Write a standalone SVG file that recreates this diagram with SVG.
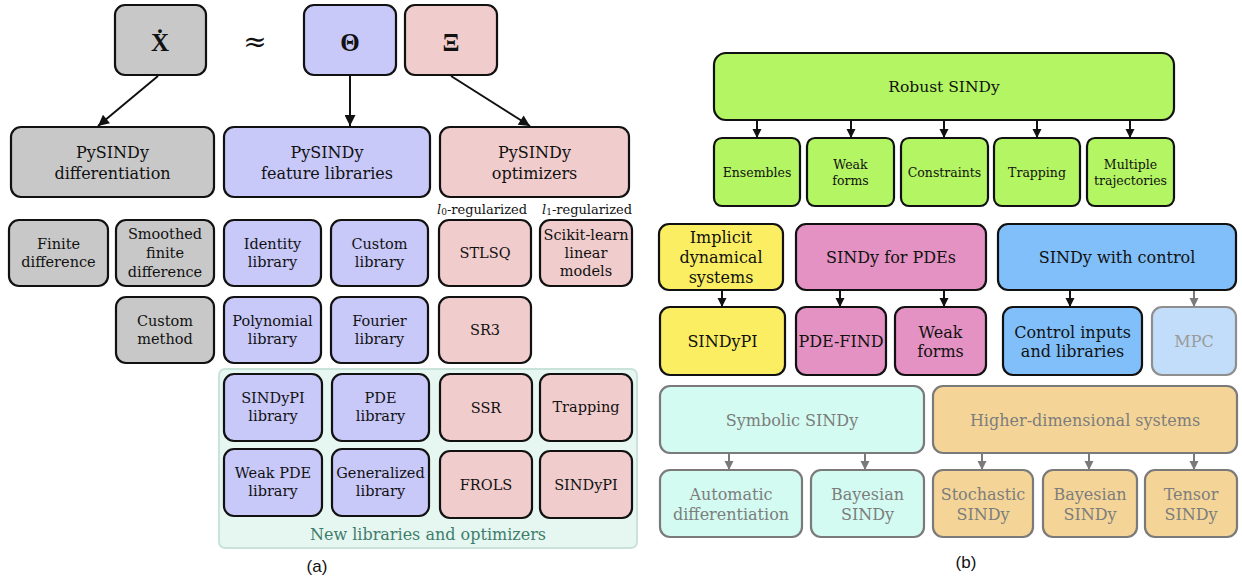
<svg xmlns="http://www.w3.org/2000/svg" width="1242" height="579" viewBox="0 0 1242 579">
<style>
  text { font-family: "DejaVu Serif", "Liberation Serif", serif; text-anchor: middle; dominant-baseline: central; fill: #111; }
  .b { stroke: #111; stroke-width: 2.2; }
  .g { stroke: #7a7a7a; stroke-width: 2.2; }
  .gray { fill: #c8c8c8; }
  .lav { fill: #c8c8f9; }
  .pink { fill: #f0cccc; }
  .lime { fill: #b3f562; }
  .yel { fill: #fbee63; }
  .mag { fill: #e491c3; }
  .blue { fill: #80bff9; }
  .mpc { fill: #c2ddf9; }
  .cyan { fill: #d3fbf1; }
  .orng { fill: #f4d597; }
  .sym { font-family: "Liberation Serif", "DejaVu Serif", serif; font-weight: bold; font-size: 25px; }
  .hd { font-size: 16px; }
  .nd { font-size: 14.5px; }
  .sm { font-size: 12.5px; }
  .r2 { font-size: 16px; }
  .gt { fill: #7d7d7d; }
  .mt { fill: #9a9a9a; }
  .lab { font-family: "Liberation Sans", Arial, sans-serif; font-size: 17px; }
  .conn line { stroke-width: 2; }
</style>
<defs>
  <marker id="ahL" viewBox="0 0 10 10" refX="10" refY="5" markerWidth="13" markerHeight="11" markerUnits="userSpaceOnUse" orient="auto"><path d="M0,0 L10,5 L0,10 z" fill="#111"/></marker>
  <marker id="ah" viewBox="0 0 10 10" refX="10" refY="5" markerWidth="9" markerHeight="10" markerUnits="userSpaceOnUse" orient="auto"><path d="M0,0 L10,5 L0,10 z" fill="#111"/></marker>
  <marker id="ahg" viewBox="0 0 10 10" refX="10" refY="5" markerWidth="9" markerHeight="10" markerUnits="userSpaceOnUse" orient="auto"><path d="M0,0 L10,5 L0,10 z" fill="#7a7a7a"/></marker>
</defs>

<!-- background region -->
<g id="newRegion">
  <rect x="219" y="369" width="418" height="179" rx="6" fill="#e6f7f1" stroke="#c9e3da" stroke-width="2"/>
  <text x="428" y="534" style="font-size:16px;fill:#3e7d6c">New libraries and optimizers</text>
</g>

<!-- connectors -->
<g id="connectors" class="conn">
  <line x1="158" y1="76" x2="98" y2="126" stroke="#111" marker-end="url(#ahL)"/>
  <line x1="350" y1="76" x2="350" y2="126" stroke="#111" marker-end="url(#ahL)"/>
  <line x1="451" y1="76" x2="530" y2="126" stroke="#111" marker-end="url(#ahL)"/>

  <line x1="757" y1="120" x2="757" y2="138" stroke="#111" marker-end="url(#ah)"/>
  <line x1="851" y1="120" x2="851" y2="138" stroke="#111" marker-end="url(#ah)"/>
  <line x1="944" y1="120" x2="944" y2="138" stroke="#111" marker-end="url(#ah)"/>
  <line x1="1037" y1="120" x2="1037" y2="138" stroke="#111" marker-end="url(#ah)"/>
  <line x1="1130" y1="120" x2="1130" y2="138" stroke="#111" marker-end="url(#ah)"/>

  <line x1="722" y1="290" x2="722" y2="307" stroke="#111" marker-end="url(#ah)"/>
  <line x1="840" y1="290" x2="840" y2="307" stroke="#111" marker-end="url(#ah)"/>
  <line x1="944" y1="290" x2="944" y2="307" stroke="#111" marker-end="url(#ah)"/>
  <line x1="1070" y1="290" x2="1070" y2="307" stroke="#111" marker-end="url(#ah)"/>
  <line x1="1194" y1="290" x2="1194" y2="307" stroke="#7a7a7a" marker-end="url(#ahg)"/>

  <line x1="729" y1="453" x2="729" y2="470" stroke="#7a7a7a" marker-end="url(#ahg)"/>
  <line x1="865" y1="453" x2="865" y2="470" stroke="#7a7a7a" marker-end="url(#ahg)"/>
  <line x1="982" y1="453" x2="982" y2="470" stroke="#7a7a7a" marker-end="url(#ahg)"/>
  <line x1="1089" y1="453" x2="1089" y2="470" stroke="#7a7a7a" marker-end="url(#ahg)"/>
  <line x1="1194" y1="453" x2="1194" y2="470" stroke="#7a7a7a" marker-end="url(#ahg)"/>
</g>

<!-- panel (a) -->
<g id="nXdot"><rect x="115" y="5" width="91" height="70" rx="10" class="gray b"/><text x="160" y="42" class="sym">Ẋ</text></g>
<g id="approx"><text x="255" y="41" style="font-size:28px">≈</text></g>
<g id="nTheta"><rect x="304" y="5" width="92" height="70" rx="10" class="lav b"/><text x="350" y="42" class="sym">Θ</text></g>
<g id="nXi"><rect x="405" y="5" width="92" height="70" rx="10" class="pink b"/><text x="451" y="42" class="sym">Ξ</text></g>

<g id="nDiff"><rect x="11" y="127" width="203" height="70" rx="10" class="gray b"/><text x="112.5" y="152" class="hd">PySINDy</text><text x="112.5" y="173" class="hd">differentiation</text></g>
<g id="nFeat"><rect x="224" y="127" width="206" height="70" rx="10" class="lav b"/><text x="327" y="152" class="hd">PySINDy</text><text x="327" y="173" class="hd">feature libraries</text></g>
<g id="nOpt"><rect x="440" y="127" width="189" height="70" rx="10" class="pink b"/><text x="534.5" y="152" class="hd">PySINDy</text><text x="534.5" y="173" class="hd">optimizers</text></g>

<g id="l0label"><text x="482" y="209" style="font-size:13px"><tspan font-style="italic">l</tspan><tspan dy="3" font-size="9">0</tspan><tspan dy="-3">-regularized</tspan></text></g>
<g id="l1label"><text x="587" y="209" style="font-size:13px"><tspan font-style="italic">l</tspan><tspan dy="3" font-size="9">1</tspan><tspan dy="-3">-regularized</tspan></text></g>

<g id="nFinite"><rect x="9" y="220" width="99" height="66" rx="10" class="gray b"/><text x="58.5" y="244" class="nd">Finite</text><text x="58.5" y="262" class="nd">difference</text></g>
<g id="nSmoothed"><rect x="116" y="220" width="98" height="66" rx="10" class="gray b"/><text x="165" y="234" class="nd">Smoothed</text><text x="165" y="253" class="nd">finite</text><text x="165" y="272" class="nd">difference</text></g>
<g id="nIdentity"><rect x="224" y="220" width="97" height="66" rx="10" class="lav b"/><text x="272.5" y="244" class="nd">Identity</text><text x="272.5" y="262" class="nd">library</text></g>
<g id="nCustomLib"><rect x="331" y="220" width="97" height="66" rx="10" class="lav b"/><text x="379.5" y="244" class="nd">Custom</text><text x="379.5" y="262" class="nd">library</text></g>
<g id="nSTLSQ"><rect x="439" y="220" width="92" height="66" rx="10" class="pink b"/><text x="485" y="253" class="nd">STLSQ</text></g>
<g id="nScikit"><rect x="540" y="220" width="92" height="66" rx="10" class="pink b"/><text x="586" y="235" class="nd">Scikit-learn</text><text x="586" y="253" class="nd">linear</text><text x="586" y="271" class="nd">models</text></g>

<g id="nCustomMethod"><rect x="116" y="297" width="98" height="66" rx="10" class="gray b"/><text x="165" y="321" class="nd">Custom</text><text x="165" y="339" class="nd">method</text></g>
<g id="nPolynomial"><rect x="224" y="297" width="97" height="66" rx="10" class="lav b"/><text x="272.5" y="321" class="nd">Polynomial</text><text x="272.5" y="339" class="nd">library</text></g>
<g id="nFourier"><rect x="331" y="297" width="97" height="66" rx="10" class="lav b"/><text x="379.5" y="321" class="nd">Fourier</text><text x="379.5" y="339" class="nd">library</text></g>
<g id="nSR3"><rect x="439" y="297" width="92" height="66" rx="10" class="pink b"/><text x="485" y="330" class="nd">SR3</text></g>

<g id="nSINDyPIlib"><rect x="224" y="374" width="98" height="67" rx="10" class="lav b"/><text x="273" y="398" class="nd">SINDyPI</text><text x="273" y="416" class="nd">library</text></g>
<g id="nPDElib"><rect x="332" y="374" width="97" height="67" rx="10" class="lav b"/><text x="380.5" y="398" class="nd">PDE</text><text x="380.5" y="416" class="nd">library</text></g>
<g id="nSSR"><rect x="440" y="374" width="92" height="67" rx="10" class="pink b"/><text x="486" y="408" class="nd">SSR</text></g>
<g id="nTrappingOpt"><rect x="540" y="374" width="92" height="67" rx="10" class="pink b"/><text x="586" y="407" class="nd">Trapping</text></g>

<g id="nWeakPDE"><rect x="224" y="449" width="98" height="67" rx="10" class="lav b"/><text x="273" y="473" class="nd">Weak PDE</text><text x="273" y="491" class="nd">library</text></g>
<g id="nGeneralized"><rect x="332" y="449" width="97" height="67" rx="10" class="lav b"/><text x="380.5" y="473" class="nd">Generalized</text><text x="380.5" y="491" class="nd">library</text></g>
<g id="nFROLS"><rect x="440" y="451" width="92" height="67" rx="10" class="pink b"/><text x="486" y="485" class="nd">FROLS</text></g>
<g id="nSINDyPIopt"><rect x="540" y="451" width="92" height="67" rx="10" class="pink b"/><text x="586" y="485" class="nd">SINDyPI</text></g>

<g id="labelA"><text x="317" y="566" class="lab">(a)</text></g>

<!-- panel (b) -->
<g id="nRobust"><rect x="714" y="53" width="460" height="67" rx="12" class="lime b"/><text x="944" y="87" style="font-size:15.5px">Robust SINDy</text></g>
<g id="nEnsembles"><rect x="714" y="138" width="86" height="68" rx="8" class="lime b"/><text x="757" y="172" class="sm">Ensembles</text></g>
<g id="nWeakRobust"><rect x="807" y="138" width="87" height="68" rx="8" class="lime b"/><text x="850.5" y="164" class="sm">Weak</text><text x="850.5" y="180" class="sm">forms</text></g>
<g id="nConstraints"><rect x="901" y="138" width="87" height="68" rx="8" class="lime b"/><text x="944.5" y="172" class="sm">Constraints</text></g>
<g id="nTrappingR"><rect x="994" y="138" width="86" height="68" rx="8" class="lime b"/><text x="1037" y="172" class="sm">Trapping</text></g>
<g id="nMultiple"><rect x="1087" y="138" width="87" height="68" rx="8" class="lime b"/><text x="1130.5" y="164" class="sm">Multiple</text><text x="1130.5" y="180" class="sm">trajectories</text></g>

<g id="nImplicit"><rect x="659" y="224" width="124" height="66" rx="10" class="yel b"/><text x="721" y="237" class="r2">Implicit</text><text x="721" y="257" class="r2">dynamical</text><text x="721" y="277" class="r2">systems</text></g>
<g id="nSINDyPI"><rect x="660" y="307" width="125" height="68" rx="10" class="yel b"/><text x="722.5" y="341" class="r2">SINDyPI</text></g>
<g id="nPDEs"><rect x="796" y="224" width="190" height="66" rx="10" class="mag b"/><text x="891" y="257" class="r2">SINDy for PDEs</text></g>
<g id="nPDEFIND"><rect x="796" y="307" width="90" height="68" rx="10" class="mag b"/><text x="841" y="341" class="r2">PDE-FIND</text></g>
<g id="nWeakPDEs"><rect x="895" y="307" width="91" height="68" rx="10" class="mag b"/><text x="940.5" y="332" class="r2">Weak</text><text x="940.5" y="351" class="r2">forms</text></g>
<g id="nControl"><rect x="998" y="224" width="238" height="66" rx="10" class="blue b"/><text x="1117" y="257" class="r2">SINDy with control</text></g>
<g id="nControlInputs"><rect x="1003" y="307" width="139" height="68" rx="10" class="blue b"/><text x="1072.5" y="332" class="r2">Control inputs</text><text x="1072.5" y="351" class="r2">and libraries</text></g>
<g id="nMPC"><rect x="1152" y="307" width="84" height="68" rx="10" class="mpc" stroke="#8e8e8e" stroke-width="2.2"/><text x="1194" y="341" class="r2 mt">MPC</text></g>

<g id="nSymbolic"><rect x="660" y="386" width="264" height="67" rx="10" class="cyan g"/><text x="792" y="420" class="r2 gt">Symbolic SINDy</text></g>
<g id="nAutomatic"><rect x="660" y="470" width="142" height="67" rx="10" class="cyan g"/><text x="731" y="494" class="r2 gt">Automatic</text><text x="731" y="514" class="r2 gt">differentiation</text></g>
<g id="nBayesian1"><rect x="811" y="470" width="113" height="67" rx="10" class="cyan g"/><text x="867.5" y="494" class="r2 gt">Bayesian</text><text x="867.5" y="514" class="r2 gt">SINDy</text></g>
<g id="nHigher"><rect x="933" y="386" width="304" height="67" rx="10" class="orng g"/><text x="1085" y="420" class="r2 gt">Higher-dimensional systems</text></g>
<g id="nStochastic"><rect x="933" y="470" width="100" height="67" rx="10" class="orng g"/><text x="983" y="494" class="r2 gt">Stochastic</text><text x="983" y="514" class="r2 gt">SINDy</text></g>
<g id="nBayesian2"><rect x="1043" y="470" width="94" height="67" rx="10" class="orng g"/><text x="1090" y="494" class="r2 gt">Bayesian</text><text x="1090" y="514" class="r2 gt">SINDy</text></g>
<g id="nTensor"><rect x="1145" y="470" width="92" height="67" rx="10" class="orng g"/><text x="1191" y="494" class="r2 gt">Tensor</text><text x="1191" y="514" class="r2 gt">SINDy</text></g>

<g id="labelB"><text x="966" y="562" class="lab">(b)</text></g>
</svg>
